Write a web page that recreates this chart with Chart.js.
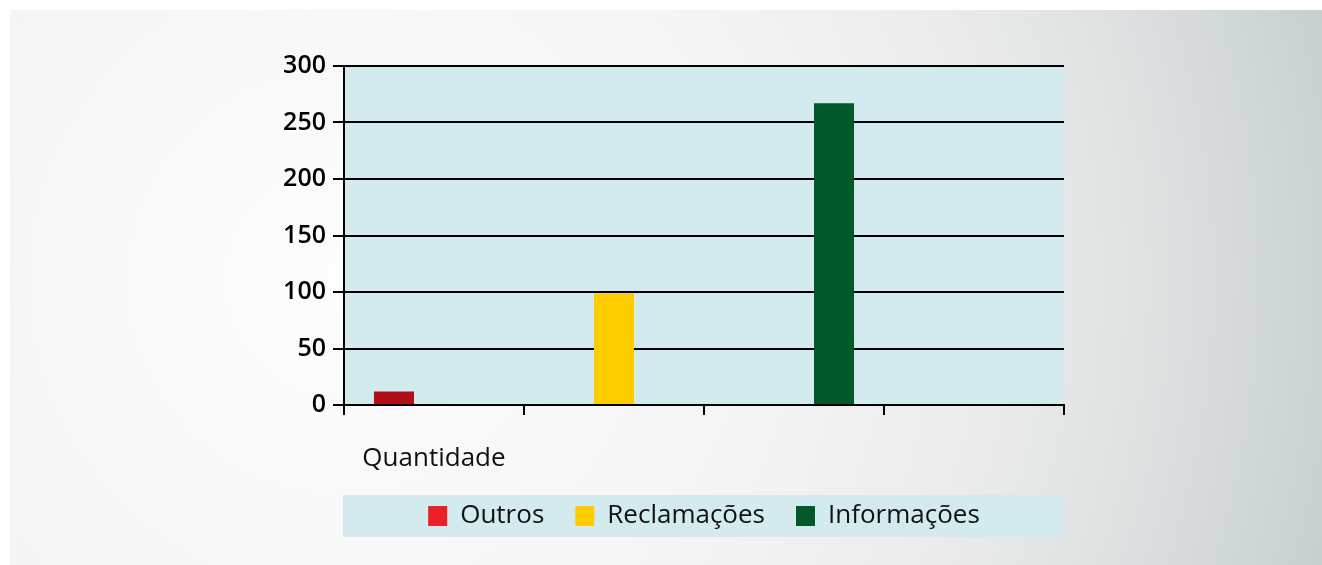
<!DOCTYPE html>
<html>
<head>
<meta charset="utf-8">
<script src="https://cdn.jsdelivr.net/npm/chart.js@4/dist/chart.umd.min.js"></script>
<style>
  html, body { margin: 0; padding: 0; background: #ffffff; }
  body { width: 1322px; height: 565px; position: relative; overflow: hidden; }
  #panel {
    position: absolute; left: 10px; top: 10px; width: 1312px; height: 555px;
    background: radial-gradient(circle at 330px 270px, #fdfdfd 0px, #f5f5f5 420px, #ececec 640px, #e2e4e4 780px, #d3d8d8 920px, #c7cdcd 1040px, #c5cbcb 1200px);
  }
  #c { position: absolute; left: 0; top: 0; }
</style>
</head>
<body>
<div id="panel"></div>
<canvas id="c" width="1322" height="565"></canvas>
<script>
// ---- data ----
const categories = ['Quantidade', '', '', ''];
const seriesNames = ['Outros', 'Reclamações', 'Informações'];
const outrosValues = [12, null, null, null];
const reclamacoesValues = [null, 99, null, null];
const informacoesValues = [null, null, 267, null];
const barColors = ['#b11116', '#ffcc00', '#00582b'];
const legendColors = ['#ee2027', '#ffcc00', '#00582b'];
const yTicks = [0, 50, 100, 150, 200, 250, 300];

const plotBg = {
  id: 'plotBg',
  beforeDraw(chart) {
    const {ctx, chartArea: a} = chart;
    ctx.save();
    ctx.fillStyle = '#d3ebee';
    ctx.fillRect(a.left, a.top, a.right - a.left, a.bottom - a.top);
    const lg = chart.legend;
    if (lg && lg.legendHitBoxes && lg.legendHitBoxes.length) {
      const hb = lg.legendHitBoxes[0];
      const cy = hb.top + hb.height / 2;
      ctx.fillRect(a.left - 1, cy - 21, a.right - a.left + 1, 42);
    }
    ctx.restore();
  }
};

new Chart(document.getElementById('c'), {
  type: 'bar',
  data: {
    labels: categories,
    datasets: [
      { label: seriesNames[0], data: outrosValues, backgroundColor: barColors[0] },
      { label: seriesNames[1], data: reclamacoesValues, backgroundColor: barColors[1] },
      { label: seriesNames[2], data: informacoesValues, backgroundColor: barColors[2] }
    ]
  },
  options: {
    responsive: false,
    animation: false,
    devicePixelRatio: 1,
    layout: { padding: { left: 260, right: 258, top: 66, bottom: 26 } },
    datasets: { bar: { categoryPercentage: 0.667, barPercentage: 1.0, skipNull: false } },
    scales: {
      x: {
        afterFit(s) { s.height = 67; },
        grid: { drawOnChartArea: false, color: '#000', lineWidth: 2, tickLength: 10, offset: true },
        border: { display: true, color: '#000', width: 2 },
        ticks: { color: '#111', font: { family: 'Open Sans', size: 26 }, padding: 28, maxRotation: 0, autoSkip: false }
      },
      y: {
        min: 0, max: 300,
        afterFit(s) { s.width = 84; },
        afterBuildTicks(s) { s.ticks = yTicks.map(v => ({ value: v })); },
        grid: { color: '#000', lineWidth: 2, tickLength: 11 },
        border: { display: true, color: '#000', width: 2 },
        ticks: { color: '#000', font: { family: 'Open Sans', size: 25, weight: '600' }, padding: 7 }
      }
    },
    plugins: {
      tooltip: { enabled: false },
      legend: {
        position: 'bottom',
        fullSize: false,
        labels: {
          color: '#111',
          font: { family: 'Open Sans', size: 26 },
          boxWidth: 19,
          boxHeight: 20,
          padding: 31,
          generateLabels(chart) {
            return chart.data.datasets.map((d, i) => ({
              text: d.label,
              fillStyle: legendColors[i],
              strokeStyle: legendColors[i],
              lineWidth: 0,
              hidden: false,
              datasetIndex: i,
              fontColor: '#111'
            }));
          }
        }
      }
    }
  },
  plugins: [plotBg]
});
</script>
</body>
</html>
